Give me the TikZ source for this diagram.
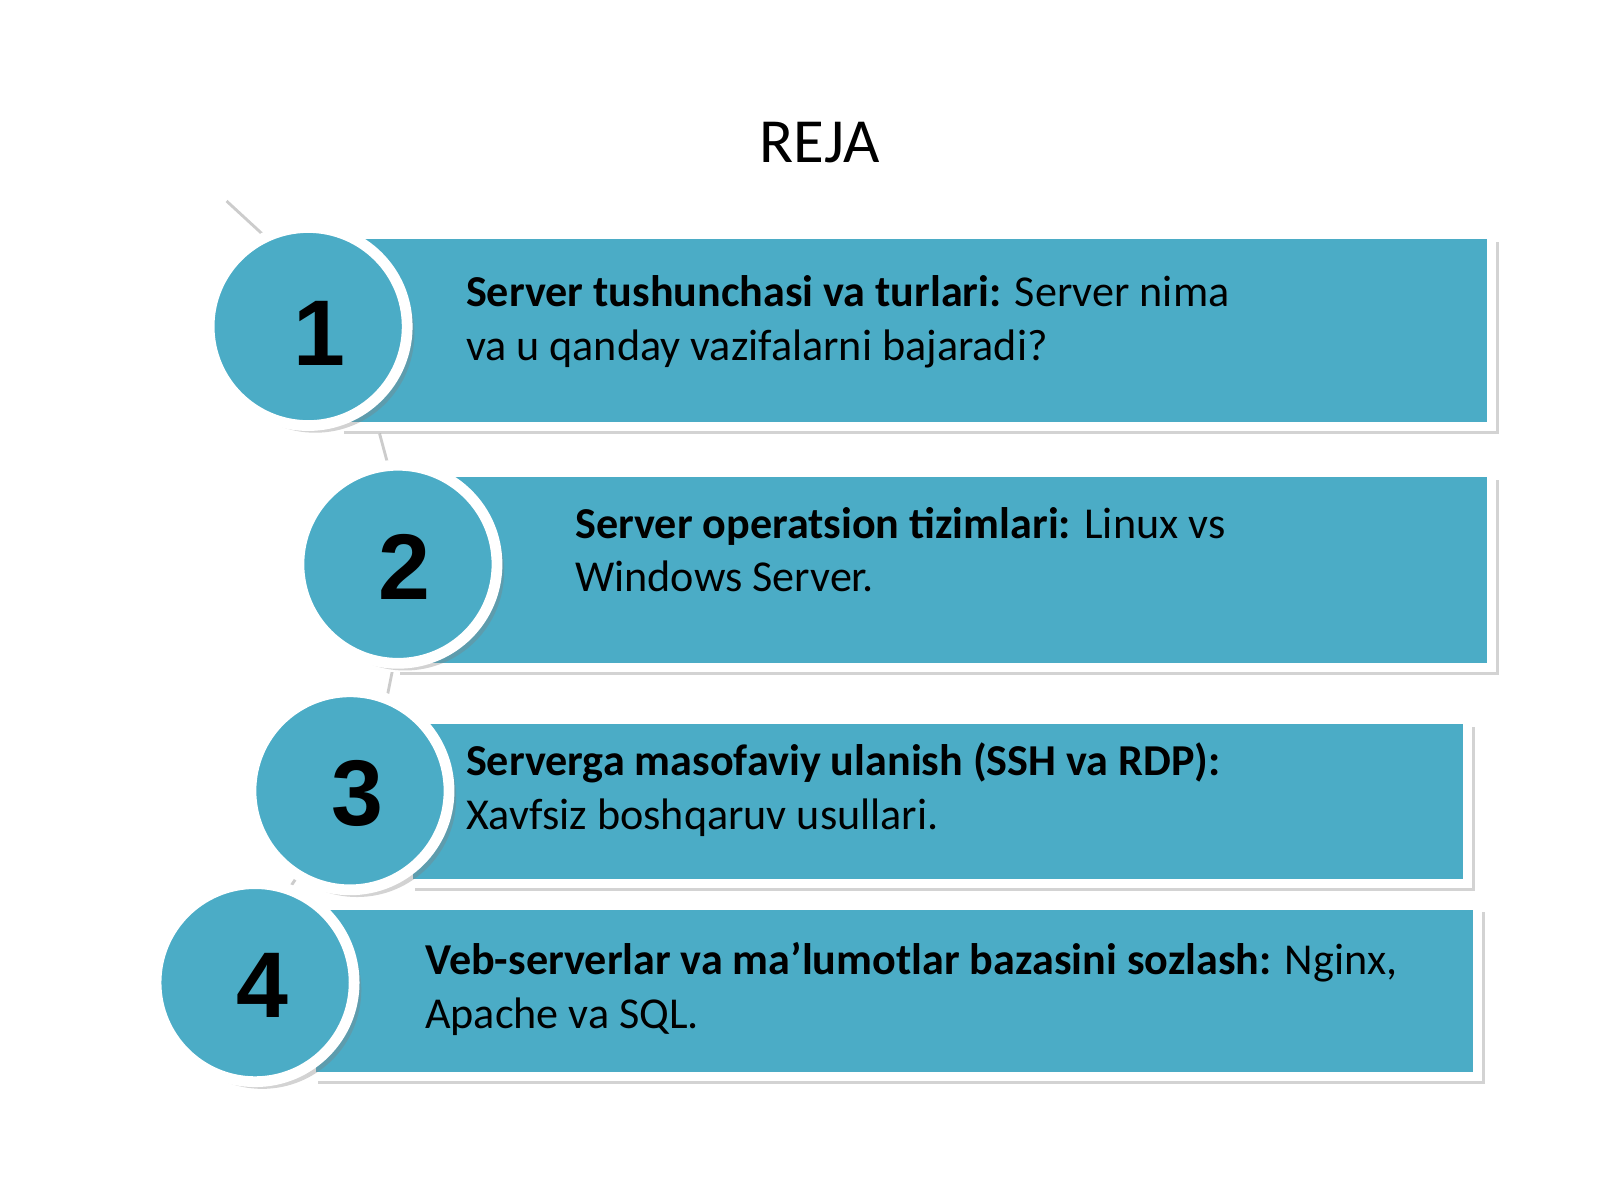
\documentclass[tikz,border=0pt]{standalone}
\usepackage{fontspec}
\setmainfont{Carlito}
\newfontfamily\numfont{Liberation Sans}
\usetikzlibrary{shadows}
\definecolor{teal1}{HTML}{4BACC6}
\tikzset{
 bar/.style={fill=teal1,draw=white,line width=2.5pt,drop shadow={shadow xshift=2pt,shadow yshift=-2pt,opacity=0.35}},
 num/.style={circle,fill=teal1,draw=white,line width=3pt,minimum size=1.94cm,inner sep=0pt,drop shadow={shadow xshift=2pt,shadow yshift=-2pt,opacity=0.35}},
 numtxt/.style={font=\fontsize{26}{30}\selectfont\bfseries\numfont},
 itemtxt/.style={anchor=base west,align=left,font=\fontsize{12.3}{15}\selectfont,inner sep=0pt},
 conn/.style={draw=gray!40,line width=0.8pt}
}
\begin{document}
\begin{tikzpicture}[x=0.01cm,y=-0.01cm]
\useasboundingbox (0,0) rectangle (1568,1176);
\node[font=\fontsize{17.5}{20}\selectfont] (title) at (803,140) {REJA};
\coordinate (s0) at (222,197);
\coordinate (s1) at (260,232);
\draw[conn] (s0) -- (s1);
\draw[conn] (372,425) -- (382,462);
\draw[conn] (385,655) -- (378,690);
\draw[conn] (292,858) -- (280,876);
\path[bar] (330,230) rectangle (1462,418);
\node[num] (c1) at (302,320) {};
\node[numtxt] (n1) at (313,327) {1};
\node[itemtxt] (t1) at (456,353) {\textbf{Server tushunchasi va turlari:} Server nima\\va u qanday vazifalarni bajaradi?};
\path[bar] (385,463) rectangle (1462,654);
\node[num] (c2) at (390,553) {};
\node[numtxt] (n2) at (396,556) {2};
\node[itemtxt] (t2) at (563,580) {\textbf{Server operatsion tizimlari:} Linux vs\\Windows Server.};
\path[bar] (400,705) rectangle (1438,866);
\node[num] (c3) at (343,775) {};
\node[numtxt] (n3) at (350,778) {3};
\node[itemtxt] (t3) at (456,813) {\textbf{Serverga masofaviy ulanish (SSH va RDP):}\\Xavfsiz boshqaruv usullari.};
\path[bar] (305,887) rectangle (1448,1055);
\node[num] (c4) at (250,963) {};
\node[numtxt] (n4) at (257,966) {4};
\node[itemtxt] (t4) at (416,1008) {\textbf{Veb-serverlar va ma\symbol{39}lumotlar bazasini sozlash:} Nginx,\\Apache va SQL.};
\end{tikzpicture}
\end{document}
